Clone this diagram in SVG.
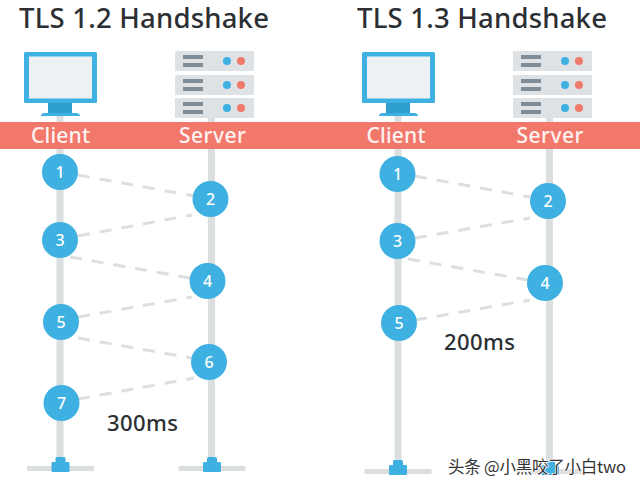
<svg xmlns="http://www.w3.org/2000/svg" xmlns:xlink="http://www.w3.org/1999/xlink" width="640" height="489" viewBox="0 0 640 489">
<style>
.title{font:500 27.500px "Noto Sans",sans-serif;fill:#2b2f33}
.lab{font:500 21px "Noto Sans",sans-serif;fill:#fdf3f1;text-anchor:middle}
.num{font:500 16px "Noto Sans",sans-serif;fill:#fff;text-anchor:middle}
.ms{font:500 22px "Noto Sans",sans-serif;fill:#2b2f33}
.wm{font:16.500px "Noto Sans CJK SC",sans-serif;fill:#333;paint-order:stroke;stroke:#fff;stroke-width:1.500px}
.bl{fill:#3eb0e2}.dk{fill:#2f9fd0}
.pole{fill:#dcdfe0}
.c{fill:#3eb0e2}
.dash{stroke:#dcdfe0;stroke-width:3;stroke-dasharray:12 10;fill:none}
.rack{fill:#dfe2e4}.bar{fill:#7f8c96}.re{fill:#ef7a6c}
</style>
<defs>
<g id="mon">
<rect x="24" y="52" width="73" height="51" rx="1.500" class="bl"/>
<rect x="29" y="56.500" width="63" height="42" fill="#eef1f3"/>
<rect x="48" y="103" width="24" height="10" class="dk"/>
<path d="M41 116q0-3 4-3h31q4 0 4 3z" class="bl"/>
</g>
<g id="unit">
<rect x="175" y="0" width="79" height="20" class="rack"/>
<rect x="183" y="4" width="20" height="4" class="bar"/>
<rect x="183" y="12" width="20" height="4" class="bar"/>
<circle cx="227" cy="10" r="4" class="bl"/>
<circle cx="241" cy="10" r="4" class="re"/>
</g>
<g id="srv">
<use xlink:href="#unit" href="#unit" y="51"/>
<use xlink:href="#unit" href="#unit" y="75"/>
<use xlink:href="#unit" href="#unit" y="98"/>
</g>
<g id="foot">
<rect x="-33.500" y="0" width="67" height="5" class="pole"/>
<rect x="-5" y="-9" width="10" height="8" rx="1.500" class="bl"/>
<rect x="-9" y="-4" width="18" height="10" rx="1" class="bl"/>
</g>
</defs>
<rect width="640" height="489" fill="#fff"/>
<g id="poles">
<rect x="56.500" y="116" width="7" height="347" class="pole"/>
<rect x="208" y="118" width="7" height="345" class="pole"/>
<rect x="394.500" y="116" width="7" height="350" class="pole"/>
<rect x="546" y="118" width="7" height="345" class="pole"/>
</g>
<rect x="0" y="122" width="640" height="27" fill="#f3786c"/>
<g id="connectors">
<path class="dash" d="M78 175L194 196"/>
<path class="dash" d="M78 236L192 215"/>
<path class="dash" d="M70 257L190 278"/>
<path class="dash" d="M78 317L192 297"/>
<path class="dash" d="M78 338L192 358"/>
<path class="dash" d="M78 399L194 378"/>
<path class="dash" d="M415 176L530 197"/>
<path class="dash" d="M415 238L530 218"/>
<path class="dash" d="M408 259L528 280"/>
<path class="dash" d="M415 320L530 300"/>
</g>
<g id="titles">
<text class="title" x="19" y="28" textLength="250" lengthAdjust="spacing">TLS 1.2 Handshake</text>
<text class="title" x="357" y="28" textLength="250" lengthAdjust="spacing">TLS 1.3 Handshake</text>
</g>
<g id="client-a"><use xlink:href="#mon" href="#mon"/><text class="lab" x="60.500" y="143" textLength="59" lengthAdjust="spacing">Client</text></g>
<g id="server-a"><use xlink:href="#srv" href="#srv"/><text class="lab" x="212.500" y="143" textLength="67" lengthAdjust="spacing">Server</text></g>
<g id="client-b"><use xlink:href="#mon" href="#mon" x="338"/><text class="lab" x="396" y="143" textLength="59" lengthAdjust="spacing">Client</text></g>
<g id="server-b"><use xlink:href="#srv" href="#srv" x="338"/><text class="lab" x="550" y="143" textLength="67" lengthAdjust="spacing">Server</text></g>
<g id="a1"><circle class="c" cx="60" cy="172" r="18"/><text class="num" x="60" y="178">1</text></g>
<g id="a2"><circle class="c" cx="210.500" cy="199" r="18"/><text class="num" x="210.500" y="205">2</text></g>
<g id="a3"><circle class="c" cx="60" cy="240" r="18"/><text class="num" x="60" y="246">3</text></g>
<g id="a4"><circle class="c" cx="207.500" cy="281" r="18"/><text class="num" x="207.500" y="287">4</text></g>
<g id="a5"><circle class="c" cx="61" cy="322" r="18"/><text class="num" x="61" y="328">5</text></g>
<g id="a6"><circle class="c" cx="209" cy="362" r="18"/><text class="num" x="209" y="368">6</text></g>
<g id="a7"><circle class="c" cx="61.500" cy="403" r="18"/><text class="num" x="61.500" y="409">7</text></g>
<g id="b1"><circle class="c" cx="397.500" cy="174" r="18"/><text class="num" x="397.500" y="180">1</text></g>
<g id="b2"><circle class="c" cx="548" cy="201" r="18"/><text class="num" x="548" y="207">2</text></g>
<g id="b3"><circle class="c" cx="397.500" cy="241" r="18"/><text class="num" x="397.500" y="247">3</text></g>
<g id="b4"><circle class="c" cx="545" cy="283" r="18"/><text class="num" x="545" y="289">4</text></g>
<g id="b5"><circle class="c" cx="399" cy="323" r="18"/><text class="num" x="399" y="329">5</text></g>
<g id="bases">
<use xlink:href="#foot" href="#foot" x="60.500" y="466"/>
<use xlink:href="#foot" href="#foot" x="212" y="466"/>
<use xlink:href="#foot" href="#foot" x="398" y="469"/>
<use xlink:href="#foot" href="#foot" x="550" y="469"/>
</g>
<text class="ms" x="107" y="431" textLength="71" lengthAdjust="spacing">300ms</text>
<text class="ms" x="444" y="350" textLength="71" lengthAdjust="spacing">200ms</text>
<text class="wm" x="448" y="473" textLength="178" lengthAdjust="spacing">头条 @小黑咬了小白two</text>
</svg>
